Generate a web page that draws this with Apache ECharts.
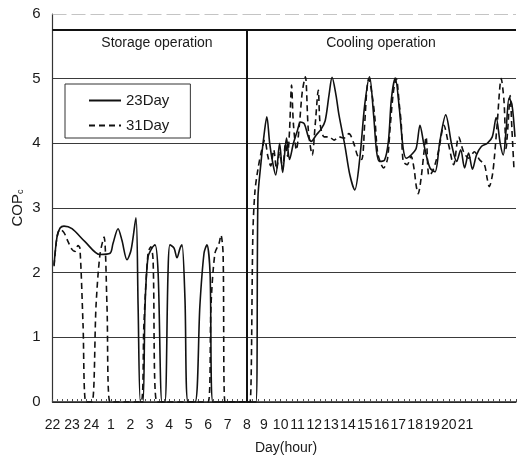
<!DOCTYPE html>
<html>
<head>
<meta charset="utf-8">
<script src="https://cdn.jsdelivr.net/npm/echarts@6.0.0/dist/echarts.min.js"></script>
<style>
html,body{margin:0;padding:0;background:#fff;}
#chart{width:519px;height:467px;}
</style>
</head>
<body>
<div id="chart"></div>
<script>
// hour index: 0 = 22h, 10 = 8h (start of cooling), 23 = 21h
const seriesNames = ['23Day', '31Day'];
const phaseNames = ['Storage operation', 'Cooling operation'];
const phaseSplit = 10;
const yTicks = [0, 1, 2, 3, 4, 5, 6];

const t23 = [0.08,0.23,0.39,0.59,1.00,1.67,2.44,2.96,3.11,3.37,3.57,3.83,4.04,4.29,4.40,4.52,4.65,4.76,4.91,5.11,5.27,5.43,5.63,5.78,5.94,6.04,6.25,6.40,6.56,6.66,6.81,6.97,7.33,7.58,7.79,7.94,8.10,8.25,10.00,
  10.53,10.65,10.82,11.00,11.18,11.35,11.53,11.71,11.94,12.12,12.35,12.53,12.76,13.00,13.18,13.41,13.65,13.82,14.12,14.41,14.65,14.88,15.06,15.29,15.47,15.82,16.12,16.41,16.71,17.00,17.29,17.53,17.71,17.88,18.18,18.41,18.59,18.82,19.06,19.29,19.47,19.76,20.06,20.29,20.53,20.88,21.18,21.47,21.82,22.18,22.47,22.71,22.94,23.18,23.41,23.65,23.94,24.29,24.59,24.82,25.06,25.24,25.41,25.59,25.76,25.94];
const cop23 = [2.12,2.55,2.69,2.72,2.68,2.48,2.28,2.30,2.45,2.68,2.50,2.20,2.35,2.85,1.50,0,0,1.50,2.24,2.38,2.43,2.00,0,0,2.00,2.43,2.38,2.23,2.38,2.43,1.60,0,0,1.50,2.30,2.43,2.00,0,0,
  0,3.15,3.67,4.10,4.41,4.00,3.70,3.51,4.00,3.55,4.08,3.75,4.00,4.20,4.33,4.30,4.10,4.03,4.13,4.22,4.35,4.75,5.02,4.75,4.44,3.97,3.51,3.28,3.77,4.59,5.03,4.44,3.87,3.72,3.74,4.03,4.69,5.01,4.54,3.92,3.77,3.82,3.92,4.28,3.97,3.62,3.56,4.03,4.44,3.97,3.72,3.90,3.62,3.85,3.60,3.82,3.95,4.00,4.10,4.40,4.00,3.82,4.20,4.70,4.60,4.10];

const t31 = [0.08,0.23,0.39,0.59,0.80,1.00,1.16,1.31,1.41,1.57,1.72,2.03,2.24,2.44,2.65,2.80,2.96,4.55,4.70,4.91,5.06,5.17,5.37,8.00,8.15,8.35,8.56,8.66,8.77,8.87,10.00,
  10.18,10.35,10.47,10.65,10.88,11.06,11.24,11.41,11.59,11.76,11.94,12.12,12.29,12.41,12.53,12.65,12.76,12.94,13.12,13.29,13.47,13.65,13.88,14.06,14.24,14.35,14.59,14.88,15.18,15.47,15.76,16.06,16.35,16.59,16.82,17.00,17.12,17.24,17.41,17.59,17.76,17.94,18.12,18.35,18.53,18.71,18.88,19.06,19.18,19.29,19.53,19.76,19.94,20.06,20.18,20.35,20.53,20.65,20.82,21.00,21.18,21.41,21.71,22.00,22.29,22.59,22.88,23.18,23.53,23.82,24.12,24.29,24.41,24.59,24.71,24.88,25.12,25.29,25.41,25.53,25.65,25.76,25.88];
const cop31 = [2.10,2.55,2.67,2.62,2.48,2.36,2.33,2.42,2.38,1.20,0,0,1.50,2.28,2.55,1.50,0,0,1.20,2.30,2.40,2.20,0,0,1.50,2.30,2.45,2.58,2.30,0,0,
  0,2.60,3.25,3.60,3.90,4.05,3.80,3.65,3.90,3.60,3.85,3.60,4.00,3.80,4.20,4.90,4.30,3.90,4.30,4.80,5.03,4.20,3.82,4.30,4.82,4.30,4.10,4.10,4.05,4.10,4.08,4.15,4.00,3.80,3.75,4.30,4.80,5.00,4.80,4.44,3.87,3.70,3.62,3.75,4.30,4.80,5.00,4.60,4.28,3.72,3.67,3.80,3.60,3.35,3.22,3.45,3.87,4.10,3.50,3.55,3.67,3.90,4.28,3.97,3.67,4.10,3.87,3.77,3.87,3.75,3.67,3.45,3.33,3.50,3.77,4.30,5.00,4.64,3.92,4.30,4.74,4.20,3.60];

const FONT = "'Liberation Sans',Arial,sans-serif";
const INK = '#1a1a1a';

function pairs(ts, vs, inStorage) {
  const out = [];
  for (let i = 0; i < ts.length; i++) {
    if (inStorage ? ts[i] <= phaseSplit : ts[i] >= phaseSplit) out.push([ts[i], vs[i]]);
  }
  return out;
}
function hourLabel(v) {
  let h = (22 + Math.round(v)) % 24;
  if (h === 0) h = 24;
  return String(h);
}

const chart = echarts.init(document.getElementById('chart'), null, {renderer: 'canvas'});

const commonY = {
  type: 'value', min: yTicks[0], max: yTicks[yTicks.length - 1], interval: 1,
  axisTick: {show: false},
  splitLine: {show: true, showMaxLine: false, lineStyle: {color: '#3a3a3a', width: 1}}
};
const commonX = {
  type: 'value', interval: 1,
  axisLine: {show: true, onZero: false, lineStyle: {color: '#222', width: 1.5}},
  axisTick: {show: true, inside: true, length: 3, lineStyle: {color: '#444'}},
  minorTick: {show: true, length: 3, lineStyle: {color: '#555'}},
  splitLine: {show: false},
  axisLabel: {fontFamily: FONT, fontSize: 14, color: INK, margin: 16}
};

function lineSeries(name, data, gi, dashed, extra) {
  return Object.assign({
    name: name, type: 'line', xAxisIndex: gi, yAxisIndex: gi,
    data: data, showSymbol: false, symbol: 'none', smooth: 0.3,
    lineStyle: {color: '#111', width: 1.6, type: dashed ? [6, 4] : 'solid'},
    itemStyle: {color: '#111'}
  }, extra || {});
}

const frameLines = {
  silent: true, symbol: 'none', label: {show: false},
  data: [
    {yAxis: 5.75, lineStyle: {color: '#111', width: 2, type: 'solid'}},
    {yAxis: 6, lineStyle: {color: '#c4c4c4', width: 1, type: [14, 5]}}
  ]
};
const frameLinesStorage = {
  silent: true, symbol: 'none', label: {show: false},
  data: [
    {yAxis: 5.75, lineStyle: {color: '#111', width: 2, type: 'solid'}},
    {yAxis: 6, lineStyle: {color: '#c4c4c4', width: 1, type: [14, 5]}},
    [{coord: [phaseSplit, 0], lineStyle: {color: '#111', width: 2, type: 'solid'}}, {coord: [phaseSplit, 5.75]}]
  ]
};

chart.setOption({
  animation: false,
  backgroundColor: '#fff',
  grid: [
    {left: 52.5, top: 14, width: 194.5, bottom: 65},
    {left: 247, top: 14, right: 0, bottom: 65}
  ],
  xAxis: [
    Object.assign({}, commonX, {gridIndex: 0, min: 0, max: phaseSplit,
      minorTick: Object.assign({}, commonX.minorTick, {splitNumber: 4}),
      axisLabel: Object.assign({}, commonX.axisLabel, {formatter: hourLabel, showMaxLabel: true, showMinLabel: true})}),
    Object.assign({}, commonX, {gridIndex: 1, min: phaseSplit, max: 26,
      minorTick: Object.assign({}, commonX.minorTick, {splitNumber: 3}),
      axisLabel: Object.assign({}, commonX.axisLabel, {
        formatter: function (v) { return (v <= phaseSplit || v > 23) ? '' : hourLabel(v); }})})
  ],
  yAxis: [
    Object.assign({}, commonY, {gridIndex: 0,
      axisLine: {show: true, lineStyle: {color: '#333', width: 1.2}},
      axisLabel: {fontFamily: FONT, fontSize: 15, color: INK, margin: 12},
      name: '{a|COP}{b|c}', nameLocation: 'middle', nameGap: 27, nameRotate: 90,
      nameTextStyle: {rich: {
        a: {fontFamily: FONT, fontSize: 15, color: INK},
        b: {fontFamily: FONT, fontSize: 9, color: INK, verticalAlign: 'bottom', padding: [6, 0, 0, 0]}
      }}}),
    Object.assign({}, commonY, {gridIndex: 1,
      axisLine: {show: false}, axisLabel: {show: false}})
  ],
  legend: {
    data: seriesNames, orient: 'vertical', left: 65, top: 84,
    padding: [9, 21, 5, 23], itemGap: 10, itemWidth: 32, itemHeight: 12,
    itemStyle: {opacity: 0},
    borderColor: '#333', borderWidth: 1, borderRadius: 0,
    textStyle: {fontFamily: FONT, fontSize: 15, color: INK}
  },
  graphic: [
    {type: 'text', x: 157, y: 43, style: {text: phaseNames[0], fontFamily: FONT, fontSize: 14, fill: INK, align: 'center', verticalAlign: 'middle'}},
    {type: 'text', x: 381, y: 43, style: {text: phaseNames[1], fontFamily: FONT, fontSize: 14, fill: INK, align: 'center', verticalAlign: 'middle'}},
    {type: 'text', x: 286, y: 448, style: {text: 'Day(hour)', fontFamily: FONT, fontSize: 14, fill: INK, align: 'center', verticalAlign: 'middle'}}
  ],
  series: [
    lineSeries(seriesNames[0], pairs(t23, cop23, true), 0, false, {markLine: frameLinesStorage}),
    lineSeries(seriesNames[0], pairs(t23, cop23, false), 1, false, {markLine: frameLines}),
    lineSeries(seriesNames[1], pairs(t31, cop31, true), 0, true),
    lineSeries(seriesNames[1], pairs(t31, cop31, false), 1, true)
  ]
});
</script>
</body>
</html>
